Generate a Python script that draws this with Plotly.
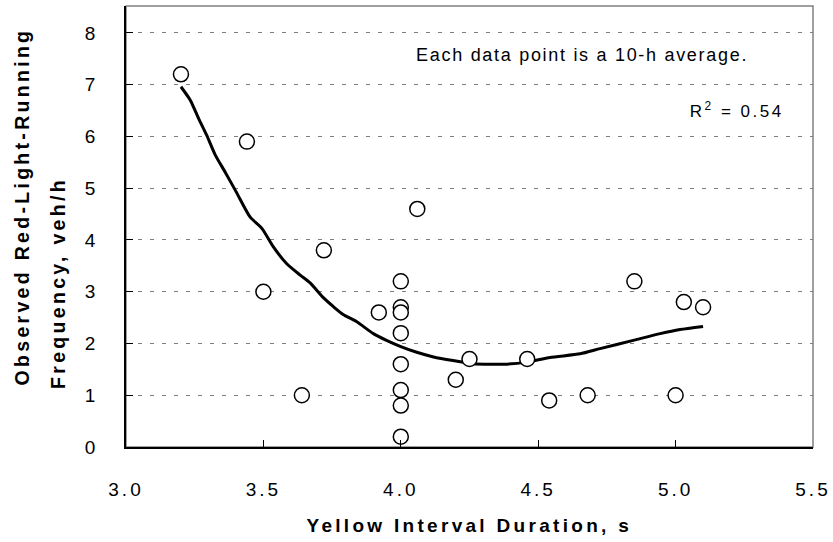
import plotly.graph_objects as go

# Observed data points (yellow interval duration s, red-light-running veh/h)
duration = [3.20, 3.44, 3.50, 3.64, 3.72, 3.92, 4.00, 4.00, 4.00, 4.00, 4.00, 4.00,
            4.00, 4.00, 4.06, 4.20, 4.25, 4.46, 4.54, 4.68, 4.85, 5.00, 5.03, 5.10]
frequency = [7.2, 5.9, 3.0, 1.0, 3.8, 2.6, 3.2, 2.7, 2.6, 2.2, 1.6, 1.1,
             0.8, 0.2, 4.6, 1.3, 1.7, 1.7, 0.9, 1.0, 3.2, 1.0, 2.8, 2.7]

# Fitted trend curve
fit_x = [3.20, 3.234, 3.264, 3.294, 3.325, 3.361, 3.404, 3.452, 3.495, 3.537, 3.585,
         3.634, 3.67, 3.719, 3.755, 3.79, 3.84, 3.90, 3.948, 4.00, 4.058, 4.119,
         4.19, 4.264, 4.325, 4.385, 4.458, 4.543, 4.653, 4.725, 4.846, 4.944, 5.016, 5.10]
fit_y = [6.96, 6.70, 6.35, 6.02, 5.64, 5.31, 4.90, 4.44, 4.22, 3.86, 3.54,
         3.32, 3.17, 2.88, 2.71, 2.56, 2.42, 2.19, 2.06, 1.94, 1.83, 1.74,
         1.67, 1.61, 1.60, 1.60, 1.64, 1.73, 1.80, 1.90, 2.06, 2.19, 2.27, 2.33]

x_ticks = [3.0, 3.5, 4.0, 4.5, 5.0, 5.5]
x_tick_labels = ["3.0", "3.5", "4.0", "4.5", "5.0", "5.5"]
y_ticks = [0, 1, 2, 3, 4, 5, 6, 7, 8]

FONT = "Liberation Sans, Arial, sans-serif"

fig = go.Figure()
fig.add_trace(go.Scatter(x=fit_x, y=fit_y, mode="lines",
                         line=dict(color="black", width=3, shape="spline", smoothing=0.6),
                         hoverinfo="skip", showlegend=False))
fig.add_trace(go.Scatter(x=duration, y=frequency, mode="markers",
                         marker=dict(size=15, color="white", symbol="circle",
                                     line=dict(color="black", width=1.5)),
                         showlegend=False))

fig.update_layout(
    width=833, height=542,
    margin=dict(l=126, r=20, t=6, b=95),
    paper_bgcolor="white", plot_bgcolor="white",
    font=dict(family=FONT, color="black", size=19),
    xaxis=dict(range=[3.0, 5.5], tickvals=x_ticks, ticktext=x_tick_labels,
               ticks="inside", ticklen=7, tickcolor="black", tickwidth=1,
               showline=True, linecolor="black", linewidth=1.5,
               showgrid=False, zeroline=False, ticklabelstandoff=24,
               tickfont=dict(size=19)),
    yaxis=dict(range=[0, 8.52], tickvals=y_ticks,
               ticks="inside", ticklen=7, tickcolor="black", tickwidth=1,
               showline=True, linecolor="black", linewidth=1.5,
               showgrid=True, gridcolor="#7f7f7f", gridwidth=1, griddash="4px,8px",
               zeroline=False, ticklabelstandoff=22,
               tickfont=dict(size=19)),
    shapes=[dict(type="rect", xref="paper", yref="paper", x0=0, x1=1, y0=0, y1=1,
                 line=dict(color="#808080", width=1.5), layer="below")],
    annotations=[
        dict(text="Each data point is a 10-h average.", x=4.659, y=7.57,
             xref="x", yref="y", xanchor="center", yanchor="middle", showarrow=False,
             font=dict(size=18)),
        dict(text="R<sup>2</sup> = 0.54", x=5.221, y=6.51, xref="x", yref="y",
             xanchor="center", yanchor="middle", showarrow=False,
             font=dict(size=17)),
        dict(text="<b>Yellow Interval Duration, s</b>", x=0.5, y=-0.177,
             xref="paper", yref="paper", xanchor="center", yanchor="middle",
             showarrow=False, font=dict(size=19)),
        dict(text="<b>Observed Red-Light-Running</b>", x=-0.151, y=0.546,
             xref="paper", yref="paper", xanchor="center", yanchor="middle",
             textangle=-90, showarrow=False, font=dict(size=19.5)),
        dict(text="<b>Frequency, veh/h</b>", x=-0.099, y=0.373,
             xref="paper", yref="paper", xanchor="center", yanchor="middle",
             textangle=-90, showarrow=False, font=dict(size=19.5)),
    ],
)

post = """
document.body.style.margin = '0';
var gd = document.getElementById('{plot_id}');
gd.querySelectorAll('.xtick text, .ytick text').forEach(function(t){ t.style.letterSpacing='3px'; });
gd.querySelectorAll('.annotation-text').forEach(function(t){
  var s = t.textContent;
  if (s.indexOf('Yellow') >= 0 || s.indexOf('Observed') >= 0 || s.indexOf('Frequency') >= 0) { t.style.letterSpacing='3.3px'; }
  else if (s.indexOf('Each') >= 0) { t.style.letterSpacing='1.7px'; }
  else { t.style.letterSpacing='2.5px'; }
});
"""

fig.write_html("out.html", post_script=post, config={"displayModeBar": False})
